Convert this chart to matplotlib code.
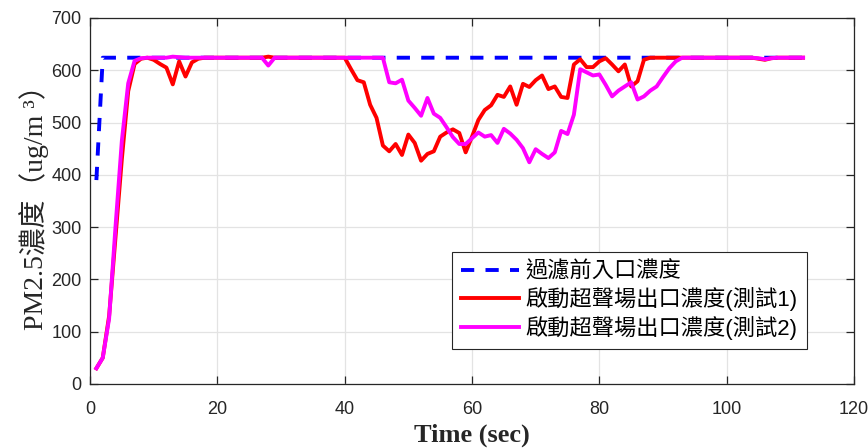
import numpy as np
import matplotlib
matplotlib.use("Agg")
import matplotlib.pyplot as plt

# sampling times (sec)
time = np.arange(1, 113)

inlet = [390,
         624, 624, 624, 624, 624, 624, 624, 624, 624,
         624, 624, 624, 624, 624, 624, 624, 624, 624, 624,
         624, 624, 624, 624, 624, 624, 624, 624, 624, 624,
         624, 624, 624, 624, 624, 624, 624, 624, 624, 624,
         624, 624, 624, 624, 624, 624, 624, 624, 624, 624,
         624, 624, 624, 624, 624, 624, 624, 624, 624, 624,
         624, 624, 624, 624, 624, 624, 624, 624, 624, 624,
         624, 624, 624, 624, 624, 624, 624, 624, 624, 624,
         624, 624, 624, 624, 624, 624, 624, 624, 624, 624,
         624, 624, 624, 624, 624, 624, 624, 624, 624, 624,
         624, 624, 624, 624, 624, 624, 624, 624, 624, 624,
         624, 624]

test1 = [30, 50, 130, 280, 430, 560, 612, 622, 624, 620,
         612, 605, 573, 617, 588, 615, 622, 624, 624, 624,
         624, 624, 624, 624, 624, 624, 624, 626, 624, 624,
         624, 624, 624, 624, 624, 624, 624, 624, 624, 624,
         602, 581, 577, 534, 509, 456, 445, 459, 438, 477,
         461, 427, 440, 445, 473, 481, 487, 480, 443, 473,
         505, 524, 533, 553, 549, 569, 534, 574, 568, 581,
         590, 564, 569, 549, 547, 611, 621, 606, 606, 617,
         623, 611, 598, 611, 569, 579, 620, 624, 624, 624,
         624, 624, 624, 624, 624, 624, 624, 624, 624, 624,
         624, 624, 624, 624, 622, 620, 623, 624, 624, 624,
         624, 624]

test2 = [30, 50, 125, 300, 465, 575, 618, 623, 624, 624,
         624, 624, 626, 625, 624, 624, 624, 624, 624, 624,
         624, 624, 624, 624, 624, 624, 624, 609, 624, 624,
         624, 624, 624, 624, 624, 624, 624, 624, 624, 624,
         624, 624, 624, 624, 624, 624, 577, 575, 582, 542,
         528, 513, 547, 517, 509, 491, 472, 459, 459, 470,
         481, 473, 476, 461, 488, 479, 467, 451, 424, 449,
         440, 432, 443, 484, 478, 515, 602, 596, 590, 592,
         572, 550, 561, 569, 577, 544, 550, 561, 569, 587,
         604, 617, 624, 624, 624, 624, 624, 624, 624, 624,
         624, 624, 624, 624, 623, 621, 623, 624, 624, 624,
         624, 624]

labels = ["過濾前入口濃度", "啟動超聲場出口濃度(測試1)", "啟動超聲場出口濃度(測試2)"]

fig = plt.figure(figsize=(8.68, 4.48), dpi=100)
ax = fig.add_axes([0.1037, 0.1429, 0.8802, 0.8170])

ax.plot(time, inlet, color="#0000ff", lw=2.8, dashes=(3.4, 2.9), label=labels[0])
ax.plot(time, test1, color="#ff0000", lw=2.8, label=labels[1])
ax.plot(time, test2, color="#ff00ff", lw=2.8, label=labels[2])

ax.set_xlim(0, 120)
ax.set_ylim(0, 700)
ax.set_xticks(np.arange(0, 121, 20))
ax.set_yticks(np.arange(0, 701, 100))
ax.grid(True, color="#e3e3e3", lw=0.9)
ax.set_axisbelow(True)

for s in ax.spines.values():
    s.set_color("#262626")
    s.set_linewidth(0.9)
ax.tick_params(direction="in", top=True, right=True, length=6, width=0.9,
               color="#262626", labelcolor="#262626", labelsize=13)
ax.tick_params(axis="x", pad=12)
ax.tick_params(axis="y", pad=6)
for t in ax.get_xticklabels() + ax.get_yticklabels():
    t.set_family(["Liberation Sans", "DejaVu Sans"])

ax.set_xlabel("Time (sec)", family=["Liberation Serif", "DejaVu Serif"],
              fontweight="bold", fontsize=19, color="#262626", labelpad=4)
ax.set_ylabel("PM2.5濃度（ug/m ³）", family=["Liberation Serif", "Noto Sans CJK TC"],
              fontsize=20, color="#262626", labelpad=2)

leg = ax.legend(loc="lower right", bbox_to_anchor=(0.9385, 0.0956), borderaxespad=0,
                prop={"family": ["Liberation Sans", "Noto Sans CJK TC"], "size": 16},
                fancybox=False, framealpha=1, edgecolor="#262626",
                handlelength=2.6, handletextpad=0.3, labelspacing=0.2, borderpad=0.42)
leg.get_frame().set_linewidth(0.8)

fig.savefig("out.png", dpi=100)
